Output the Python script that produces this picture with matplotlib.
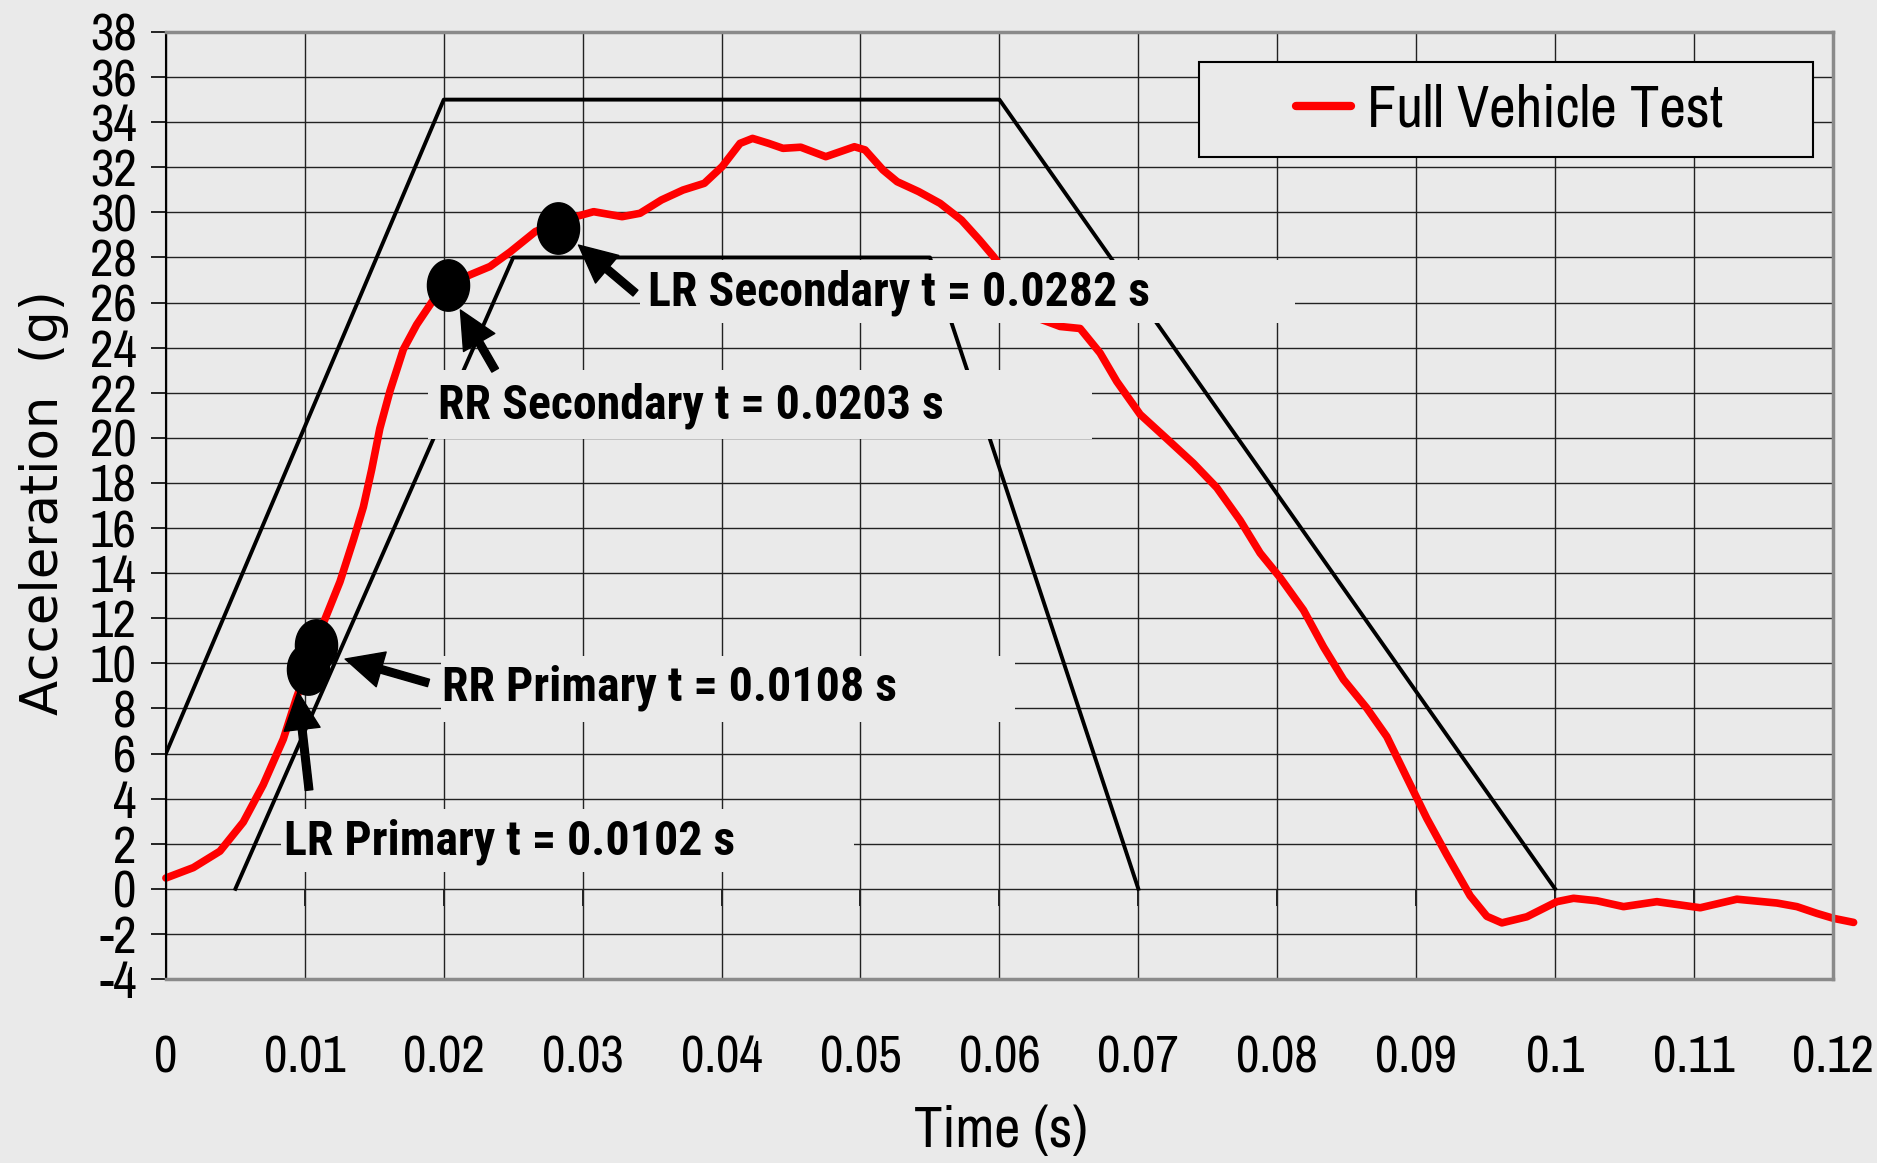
import matplotlib
matplotlib.use('Agg')
import matplotlib.pyplot as plt
import matplotlib.font_manager as fm
import matplotlib.patheffects as pe
from matplotlib.patches import Rectangle
from matplotlib.path import Path
import numpy as np

# red test trace
time_s = [0.0, 0.00197, 0.00389, 0.00557, 0.0070, 0.00845, 0.0094, 0.0102, 0.01133, 0.01253,
          0.01349, 0.01421, 0.01481, 0.0154, 0.01613, 0.01709, 0.01805, 0.01925, 0.0203, 0.02189,
          0.02333, 0.02477, 0.0266, 0.0282, 0.0295, 0.03079, 0.03284, 0.03413, 0.03567, 0.03722,
          0.03876, 0.04004, 0.04133, 0.04223, 0.04339, 0.04442, 0.0457, 0.0475, 0.04853, 0.04956,
          0.05033, 0.05162, 0.05264, 0.05419, 0.05573, 0.05727, 0.05856, 0.05959, 0.0612, 0.0628,
          0.06437, 0.06581, 0.06725, 0.06845, 0.07013, 0.07205, 0.07397, 0.07565, 0.07733, 0.07877,
          0.08021, 0.08189, 0.08333, 0.08477, 0.08645, 0.08789, 0.08933, 0.09077, 0.09221, 0.09389,
          0.09509, 0.09617, 0.09797, 0.10013, 0.10133, 0.10301, 0.10493, 0.10733, 0.11045, 0.11309,
          0.11597, 0.11741, 0.11885, 0.12005, 0.12149]
accel_g = [0.48, 0.94, 1.67, 2.96, 4.61, 6.64, 8.47, 9.84, 11.78, 13.62,
           15.46, 16.93, 18.59, 20.42, 22.08, 23.92, 25.02, 26.12, 26.75, 27.23,
           27.6, 28.24, 29.15, 29.55, 29.81, 30.03, 29.81, 29.96, 30.55, 30.99,
           31.29, 32.03, 33.06, 33.28, 33.06, 32.84, 32.89, 32.47, 32.69, 32.91,
           32.77, 31.88, 31.36, 30.92, 30.40, 29.66, 28.78, 28.03, 26.6, 25.3,
           24.94, 24.85, 23.76, 22.5, 21.04, 19.96, 18.87, 17.79, 16.34, 14.89,
           13.8, 12.36, 10.73, 9.28, 8.01, 6.75, 4.93, 3.12, 1.5, -0.31,
           -1.22, -1.51, -1.24, -0.57, -0.42, -0.53, -0.79, -0.57, -0.84, -0.46,
           -0.63, -0.79, -1.09, -1.31, -1.49]

# corridor bounds
upper_t = [0.0, 0.02, 0.06, 0.1]
upper_g = [6, 35, 35, 0]
lower_t = [0.005, 0.025, 0.055, 0.07]
lower_g = [0, 28, 28, 0]

# event markers
event_labels = ['LR Secondary t = 0.0282 s', 'RR Secondary t = 0.0203 s',
                'RR Primary t = 0.0108 s', 'LR Primary t = 0.0102 s']
event_t = [0.0282, 0.0203, 0.0108, 0.0102]
event_g = [29.3, 26.8, 10.8, 9.75]

x_ticks = [0, 0.01, 0.02, 0.03, 0.04, 0.05, 0.06, 0.07, 0.08, 0.09, 0.1, 0.11, 0.12]
x_ticklabels = ['0', '0.01', '0.02', '0.03', '0.04', '0.05', '0.06', '0.07', '0.08',
                '0.09', '0.1', '0.11', '0.12']
y_ticks = list(range(-4, 39, 2))

bg = '#eaeaea'
narrow = ['Archivo Narrow', 'Liberation Sans', 'DejaVu Sans']


def bold_narrow():
    # first condensed family that really has a bold face
    cands = ['Liberation Sans Narrow', 'Roboto Condensed', 'PT Sans Narrow',
             'Fira Sans Condensed', 'IBM Plex Sans Condensed', 'Archivo Narrow']
    for c in cands:
        for f in fm.fontManager.ttflist:
            if f.name == c and f.weight in (700, 'bold'):
                return c, []
    return 'Archivo Narrow', [pe.withStroke(linewidth=1.6, foreground='black')]


bold_fam, bold_fx = bold_narrow()

fig = plt.figure(figsize=(18.77, 11.63), dpi=100, facecolor=bg)
ax = fig.add_axes([0.0884, 0.1582, 0.8881, 0.8143], facecolor=bg)
ax.set_xlim(0, 0.12)
ax.set_ylim(-4, 38)
ax.set_axisbelow(True)
ax.grid(True, color='#222222', lw=1.0)

ax.plot(upper_t, upper_g, color='black', lw=2.8, zorder=2)
ax.plot(lower_t, lower_g, color='black', lw=2.8, zorder=2)
red, = ax.plot(time_s, accel_g, color='#ff0000', lw=5.5, solid_joinstyle='round',
               solid_capstyle='round', clip_on=False, zorder=2.5)

# label boxes (same fill as background, hide what is behind)
boxes = [(0.0341, 25.1, 0.0472, 2.8), (0.0189, 19.95, 0.0478, 3.05),
         (0.0198, 7.40, 0.0413, 2.93), (0.0083, 0.75, 0.0412, 2.8)]
for bx, by, bw, bh in boxes:
    ax.add_patch(Rectangle((bx, by), bw, bh, fc=bg, ec='none', zorder=3))

# ellipse marker
th = np.linspace(0, 2 * np.pi, 60)
ell = Path(np.column_stack([0.82 * np.cos(th), np.sin(th)]))
ax.plot(event_t, event_g, ls='none', marker=ell, ms=37, color='black', zorder=6)

text_pos = [(0.0347, 25.85), (0.0196, 20.88), (0.0199, 8.33), (0.0085, 1.54)]
arrow_tail = [(0.0338, 26.42), (0.0237, 23.0), (0.0189, 9.13), (0.0103, 4.38)]
arrow_tip = [(0.0297, 28.55), (0.0212, 25.67), (0.0129, 10.19), (0.0095, 8.73)]
for lab, (tx, ty), tail, tip in zip(event_labels, text_pos, arrow_tail, arrow_tip):
    t = ax.text(tx, ty, lab, fontsize=34.5, fontweight='bold', family=[bold_fam, 'DejaVu Sans'],
                ha='left', va='baseline', zorder=7)
    t.set_path_effects(bold_fx)
    ax.annotate('', xy=tip, xytext=tail, zorder=7,
                arrowprops=dict(facecolor='black', edgecolor='black', width=5.5,
                                headwidth=26, headlength=27, shrink=0))

ax.set_xticks(x_ticks)
ax.set_xticklabels(x_ticklabels, family=narrow, fontsize=37)
ax.set_yticks(y_ticks)
ax.set_yticklabels([str(v) for v in y_ticks], family=narrow, fontsize=37)
ax.tick_params(axis='x', length=0, pad=40)
ax.tick_params(axis='y', length=11, width=1.2, pad=10, direction='out')

sec = ax.secondary_xaxis(4 / 42)
sec.set_xticks(x_ticks)
sec.set_xticklabels([])
sec.tick_params(length=12, width=1.2, direction='out')
sec.spines['bottom'].set_visible(False)

for s in ['top', 'right', 'bottom']:
    ax.spines[s].set_color('#8a8a8a')
    ax.spines[s].set_linewidth(2.5)
ax.spines['left'].set_color('black')
ax.spines['left'].set_linewidth(1.5)

ax.set_ylabel('Acceleration  (g)', fontsize=37, family='DejaVu Sans', va='center')
ax.yaxis.set_label_coords(-0.0732, 0.5026)
ax.set_xlabel('Time (s)', fontsize=41, family=narrow, va='center')
ax.xaxis.set_label_coords(0.501, -0.1605)

# legend with a square frame
ax.add_patch(Rectangle((0.6197, 0.868), 0.3683, 0.1003, transform=ax.transAxes,
                       fc=bg, ec='black', lw=1.5, zorder=4))
leg = ax.legend(handles=[red], labels=['Full Vehicle Test'], loc='center',
                bbox_to_anchor=(0.806, 0.918), frameon=False, handlelength=0.95,
                handletextpad=0.27, prop={'family': narrow, 'size': 42})
leg.set_zorder(5)
leg.get_lines()[0].set_linewidth(6)

fig.savefig('out.png', dpi=100, facecolor=bg)
